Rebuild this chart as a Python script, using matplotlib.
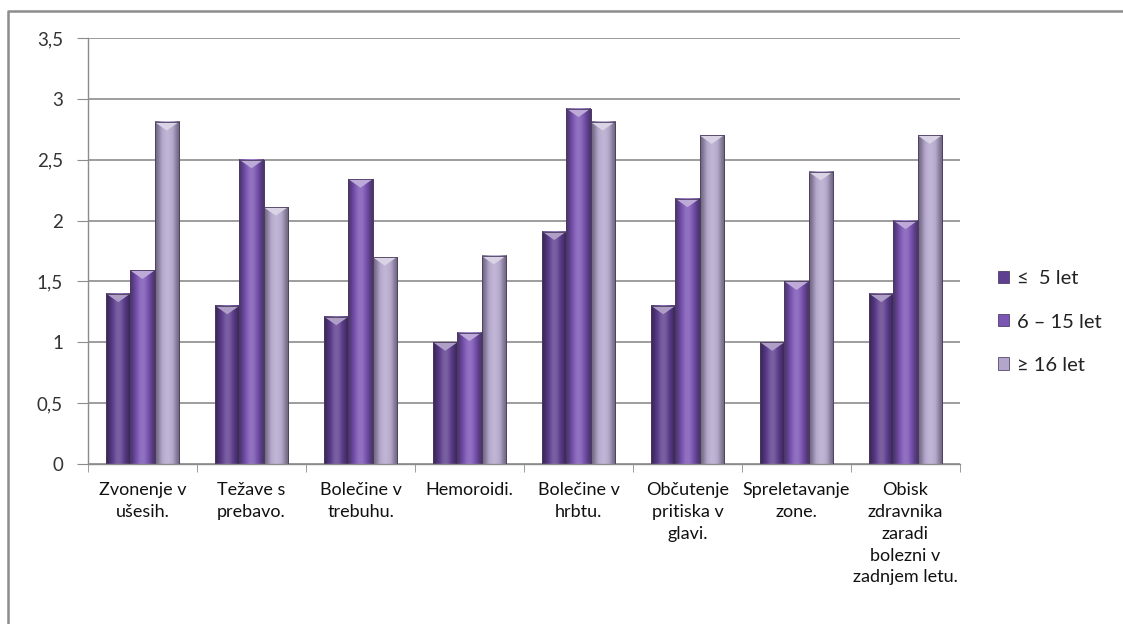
import numpy as np
import matplotlib
matplotlib.use("Agg")
import matplotlib.pyplot as plt
from matplotlib.colors import to_rgb
from matplotlib.patches import Rectangle, Polygon
from matplotlib.lines import Line2D

plt.rcParams['font.family'] = ['Lato', 'DejaVu Sans']

categories = ["Zvonenje v\nušesih.", "Težave s\nprebavo.", "Bolečine v\ntrebuhu.",
              "Hemoroidi.", "Bolečine v\nhrbtu.", "Občutenje\npritiska v\nglavi.",
              "Spreletavanje\nzone.", "Obisk\nzdravnika\nzaradi\nbolezni v\nzadnjem letu."]
series_names = ["≤  5 let", "6 – 15 let", "≥ 16 let"]
s1 = [1.40, 1.30, 1.21, 1.00, 1.91, 1.30, 1.00, 1.40]
s2 = [1.59, 2.50, 2.34, 1.08, 2.92, 2.18, 1.50, 2.00]
s3 = [2.81, 2.11, 1.70, 1.71, 2.81, 2.70, 2.40, 2.70]
yticks = [0, 0.5, 1, 1.5, 2, 2.5, 3, 3.5]
ytick_labels = ["0", "0,5", "1", "1,5", "2", "2,5", "3", "3,5"]
colors = ["#5f3f8f", "#7b55b3", "#b3a6cb"]

fig = plt.figure(figsize=(11.23, 6.24), dpi=100)
ax = fig.add_axes([88/1123, 1-464/624, (960-88)/1123, (464-38)/624])

n = len(categories)
x = np.arange(n)
bw = 1/4.5

def shade(color, N=64):
    base = np.array(to_rgb(color))
    t = np.linspace(0, 1, N)
    prof = np.sin(np.pi * t) ** 1.5
    f = 0.62 + 0.55 * prof
    out = []
    for v in f:
        if v <= 1:
            c = base * v
        else:
            c = base + (1 - base) * (v - 1) * 1.0
        out.append(np.clip(c, 0, 1))
    return np.array(out)[None, :, :]

for i, (vals, c, name) in enumerate(zip([s1, s2, s3], colors, series_names)):
    bars = ax.bar(x + (i - 1) * bw, vals, width=bw, color=c, edgecolor="#3a2a55",
                  linewidth=0.5, label=name, zorder=2)
    img = shade(c)
    base = np.array(to_rgb(c))
    for b in bars:
        bx, bwid, bh = b.get_x(), b.get_width(), b.get_height()
        ax.imshow(img, extent=(bx, bx + bwid, 0, bh), aspect='auto', zorder=2.5,
                  interpolation='bilinear')
        d = 0.07
        light = base + (1 - base) * 0.5
        ax.add_patch(Polygon([(bx, bh), (bx + bwid, bh), (bx + bwid / 2, bh - d)],
                             closed=True, facecolor=light, edgecolor='none', zorder=3))
        ax.add_patch(Rectangle((bx, 0), bwid, bh, facecolor='none',
                               edgecolor="#4a3a60", linewidth=0.6, zorder=3.5))

ax.set_xlim(-0.5, n - 0.5)
ax.set_ylim(0, 3.5)
ax.set_yticks(yticks)
ax.set_yticklabels(ytick_labels, fontsize=13.5, color="#333333")
ax.yaxis.grid(True, color="#8c8c8c", linewidth=1.2, zorder=0)
ax.set_axisbelow(True)

ax.set_xticks(x)
ax.set_xticklabels(categories, fontsize=13, linespacing=1.45,
                   color="#111111", va='top')
ax.tick_params(axis='x', length=0, pad=13)
ax.set_xticks(np.arange(-0.5, n, 1), minor=True)
ax.tick_params(axis='x', which='minor', length=6, color="#8c8c8c", direction='out')
ax.tick_params(axis='y', length=8, color="#8c8c8c", direction='out', pad=10)

for s in ['top', 'right']:
    ax.spines[s].set_visible(False)
for s in ['left', 'bottom']:
    ax.spines[s].set_color("#8c8c8c")
    ax.spines[s].set_linewidth(1.0)

leg = ax.legend(loc='center left', bbox_to_anchor=(980/1123, 1-322/624),
                bbox_transform=fig.transFigure, frameon=False, fontsize=14.5,
                handlelength=0.55, handleheight=0.55, handletextpad=0.4,
                labelspacing=1.3)
for t in leg.get_texts():
    t.set_color("#222222")

fig.add_artist(Line2D([8/1123, 8/1123, 1.0], [0.0, 1-11/624, 1-11/624],
                      transform=fig.transFigure, color="#8c8c8c", linewidth=1.8))

fig.savefig("out.png", dpi=100)
